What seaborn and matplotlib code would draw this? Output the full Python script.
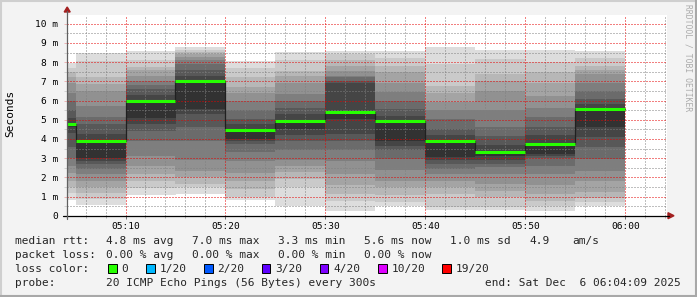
import matplotlib
matplotlib.use("Agg")
import matplotlib.pyplot as plt
import seaborn as sns
import pandas as pd
from matplotlib.lines import Line2D
from matplotlib.patches import Rectangle, Polygon
from matplotlib.ticker import MultipleLocator, FixedLocator

# ---------------- data (minutes after 05:00, milliseconds) ----------------
bar_start_min = [0, 5, 10, 15, 20, 25, 30, 35, 40, 45, 50, 55]
median_ms = [4.8, 3.87, 6.0, 7.0, 4.45, 4.95, 5.4, 4.95, 3.9, 3.3, 3.75, 5.57]

pings_0500 = [0.82, 1.2, 1.48, 1.8, 2.2, 2.6, 3.0, 3.6, 4.3, 4.6, 4.8, 5.1, 5.5, 6.0, 6.4, 6.9, 7.2, 7.5, 7.7, 7.93]
pings_0505 = [0.57, 0.87, 1.16, 1.48, 1.82, 2.17, 2.43, 2.69, 2.87, 3.0, 3.87, 4.25, 4.77, 5.12, 5.73, 6.51, 6.86, 7.2, 8.07, 8.45]
pings_0510 = [1.1, 1.45, 1.8, 2.15, 2.6, 3.1, 3.9, 4.4, 4.8, 5.1, 6.0, 6.3, 6.6, 6.8, 7.0, 7.3, 7.6, 7.75, 8.1, 8.6]
pings_0515 = [1.15, 1.5, 1.65, 2.0, 2.35, 2.9, 3.9, 4.6, 5.3, 5.55, 7.0, 7.3, 7.6, 7.9, 8.1, 8.25, 8.4, 8.55, 8.65, 8.77]
pings_0520 = [0.8, 0.95, 1.4, 1.8, 2.25, 2.85, 3.3, 3.75, 3.9, 4.0, 4.45, 4.8, 5.05, 5.5, 6.0, 6.4, 6.7, 7.2, 7.7, 8.07]
pings_0525 = [0.52, 1.47, 1.91, 2.26, 2.6, 2.9, 3.4, 3.9, 4.2, 4.5, 4.95, 5.3, 5.6, 6.0, 6.35, 6.9, 7.3, 7.55, 8.1, 8.52]
pings_0530 = [0.26, 0.78, 1.13, 1.6, 2.17, 2.87, 3.4, 3.91, 4.25, 5.04, 5.4, 6.9, 7.0, 7.2, 7.3, 7.55, 7.8, 8.1, 8.4, 8.59]
pings_0535 = [0.5, 0.7, 1.1, 1.5, 1.8, 2.4, 2.95, 3.4, 3.65, 3.9, 4.95, 5.2, 5.56, 6.0, 6.42, 6.9, 7.47, 7.8, 8.2, 8.57]
pings_0540 = [0.3, 0.45, 1.13, 1.5, 1.82, 2.17, 2.43, 2.7, 2.9, 3.04, 3.9, 4.2, 4.51, 5.04, 5.5, 5.9, 6.4, 6.77, 7.9, 8.77]
pings_0545 = [0.31, 0.45, 0.95, 1.3, 1.65, 2.17, 2.52, 2.7, 2.9, 3.1, 3.3, 3.7, 4.17, 4.6, 5.5, 6.51, 7.0, 7.38, 8.16, 8.63]
pings_0550 = [0.26, 0.5, 0.78, 1.13, 1.6, 2.17, 2.6, 3.0, 3.1, 3.22, 3.75, 4.2, 4.6, 5.12, 5.6, 6.25, 6.9, 7.46, 8.0, 8.62]
pings_0555 = [0.52, 0.7, 0.9, 1.22, 1.82, 2.34, 2.95, 3.56, 4.08, 4.6, 5.56, 5.8, 6.1, 6.51, 6.9, 7.38, 7.6, 7.81, 8.2, 8.59]

x_tick_min = [10, 20, 30, 40, 50, 60]
x_tick_labels = ["05:10", "05:20", "05:30", "05:40", "05:50", "06:00"]
y_tick_vals = [0, 1, 2, 3, 4, 5, 6, 7, 8, 9, 10]
y_tick_labels = ["0", "1 m", "2 m", "3 m", "4 m", "5 m", "6 m", "7 m", "8 m", "9 m", "10 m"]

rtt_stats = ["4.8 ms avg", "7.0 ms max", "3.3 ms min", "5.6 ms now", "1.0 ms sd", "4.9", "am/s"]
loss_stats = ["0.00 % avg", "0.00 % max", "0.00 % min", "0.00 % now"]
loss_labels = ["0", "1/20", "2/20", "3/20", "4/20", "10/20", "19/20"]
loss_colors = ["#26ff00", "#00b8ff", "#0059ff", "#5e00ff", "#7e00ff", "#dd00ff", "#ff0000"]
probe_text = "20 ICMP Echo Pings (56 Bytes) every 300s"
end_text = "end: Sat Dec  6 06:04:09 2025"

# ---------------- styling ----------------
sns.set_style("white")
plt.rcParams["font.family"] = ["DejaVu Sans Mono", "DejaVu Sans"]

W, H = 697, 297
def fx(x):
    return x / W
def fy(y):
    return 1 - y / H

fig = plt.figure(figsize=(W / 100, H / 100), dpi=100, facecolor="#f3f3f3")

y_px_per_ms = 19.2
ax_top_px, ax_bot_px = 15.0, 215.7
ax = fig.add_axes([fx(67), fy(ax_bot_px), 600 / W, (ax_bot_px - ax_top_px) / H])
ax.set_facecolor("white")
ax.set_xlim(4.15, 64.15)
ax.set_ylim(0, (ax_bot_px - ax_top_px) / y_px_per_ms)
for s in ax.spines.values():
    s.set_visible(False)

# ---------------- smoke ----------------
all_pings = [pings_0500, pings_0505, pings_0510, pings_0515, pings_0520, pings_0525,
             pings_0530, pings_0535, pings_0540, pings_0545, pings_0550, pings_0555]
for k in range(10):
    g = (221 - 19 * k) / 255.0
    lows = [sorted(p)[k] for p in all_pings]
    highs = [sorted(p)[19 - k] for p in all_pings]
    ax.bar(bar_start_min, [h - l for h, l in zip(highs, lows)], bottom=lows, width=5,
           align="edge", color=(g, g, g), linewidth=0, antialiased=False, zorder=1)

# ---------------- grid ----------------
ax.xaxis.set_major_locator(FixedLocator(x_tick_min))
ax.xaxis.set_minor_locator(MultipleLocator(2))
ax.yaxis.set_major_locator(FixedLocator(y_tick_vals))
ax.yaxis.set_minor_locator(MultipleLocator(0.5))
ax.grid(which="minor", color=(0.5, 0.5, 0.5, 0.3), linestyle=(0, (1, 2)), linewidth=0.72)
ax.grid(which="major", color=(0.9, 0.0, 0.0, 0.26), linestyle=(0, (1, 2)), linewidth=0.72)
ax.set_axisbelow(False)

# ---------------- median line ----------------
df = pd.DataFrame({"t": bar_start_min + [bar_start_min[-1] + 5],
                   "median": median_ms + [median_ms[-1]]})
sns.lineplot(data=df, x="t", y="median", drawstyle="steps-post", color="#202020",
             linewidth=0.9, ax=ax, zorder=4)
ax.hlines(median_ms, bar_start_min, [t + 5 for t in bar_start_min], colors=loss_colors[0],
          linewidth=2.2, zorder=5)
ax.set_xlabel("")
ax.set_ylabel("")

# ---------------- ticks ----------------
ax.set_xticks(x_tick_min)
ax.set_xticklabels(x_tick_labels)
ax.set_yticks(y_tick_vals)
ax.set_yticklabels(y_tick_labels)
ax.tick_params(axis="x", which="major", length=2.2, width=0.7, color="#707070", pad=2.2,
               labelsize=6.8, labelcolor="#000000", direction="out", bottom=True)
ax.tick_params(axis="x", which="minor", length=1.5, width=0.7, color="#b0b0b0", bottom=True)
ax.tick_params(axis="y", which="major", length=2.0, width=0.7, color=(0.92, 0.7, 0.7), pad=4.6,
               labelsize=6.8, labelcolor="#000000", left=True)
ax.tick_params(axis="y", which="minor", length=2.0, width=0.7, color="#d0d0d0", left=True)

# ---------------- axes lines & arrows ----------------
fig.add_artist(Line2D([fx(63), fx(669)], [fy(215.7), fy(215.7)], color="black", lw=0.9))
fig.add_artist(Line2D([fx(67.2), fx(67.2)], [fy(219), fy(11)], color="#606060", lw=0.9))
arrow_col = "#a32020"
fig.add_artist(Polygon([[fx(668), fy(212.7)], [fx(674), fy(215.7)], [fx(668), fy(218.7)]],
                       closed=True, color=arrow_col, transform=fig.transFigure))
fig.add_artist(Polygon([[fx(64.2), fy(12)], [fx(67.2), fy(7)], [fx(70.2), fy(12)]],
                       closed=True, color=arrow_col, transform=fig.transFigure))

# ---------------- labels ----------------
fig.text(fx(10.5), fy(113.5), "Seconds", rotation=90, ha="center", va="center",
         fontsize=8, color="black")
fig.text(fx(688), fy(4.5), "RRDTOOL / TOBI OETIKER", rotation=270, ha="center", va="top",
         fontsize=5.8, color="#ababab")

# ---------------- legend ----------------
fs = 8.0
base = [244.3, 258.3, 272.3, 286.5]
fig.text(fx(15), fy(base[0]), "median rtt:", fontsize=fs, va="baseline")
for s, x in zip(rtt_stats, [106, 192, 278, 364, 450, 529, 572]):
    fig.text(fx(x), fy(base[0]), s, fontsize=fs, va="baseline")
fig.text(fx(15), fy(base[1]), "packet loss:", fontsize=fs, va="baseline")
for s, x in zip(loss_stats, [106, 192, 278, 364]):
    fig.text(fx(x), fy(base[1]), s, fontsize=fs, va="baseline")
fig.text(fx(15), fy(base[2]), "loss color:", fontsize=fs, va="baseline")
for lab, col, x in zip(loss_labels, loss_colors, [121.5, 159.5, 217.5, 275, 333, 391.5, 455.5]):
    fig.add_artist(Rectangle((fx(x - 13.5), fy(272.5)), 8.5 / W, 8.5 / H, facecolor=col,
                             edgecolor="black", lw=0.7, transform=fig.transFigure))
    fig.text(fx(x), fy(base[2]), lab, fontsize=fs, va="baseline")
fig.text(fx(15), fy(base[3]), "probe:", fontsize=fs, va="baseline")
fig.text(fx(106), fy(base[3]), probe_text, fontsize=fs, va="baseline")
fig.text(fx(681), fy(base[3]), end_text, fontsize=fs, va="baseline", ha="right")

# ---------------- frame ----------------
fig.add_artist(Line2D([0, 1], [fy(0.8), fy(0.8)], color="#cfcfcf", lw=1.5))
fig.add_artist(Line2D([fx(0.8), fx(0.8)], [0, 1], color="#cfcfcf", lw=1.5))
fig.add_artist(Line2D([0, 1], [fy(296.2), fy(296.2)], color="#a8a8a8", lw=1.5))
fig.add_artist(Line2D([fx(696.2), fx(696.2)], [0, 1], color="#a8a8a8", lw=1.5))

fig.savefig("out.png", dpi=100, facecolor=fig.get_facecolor())
